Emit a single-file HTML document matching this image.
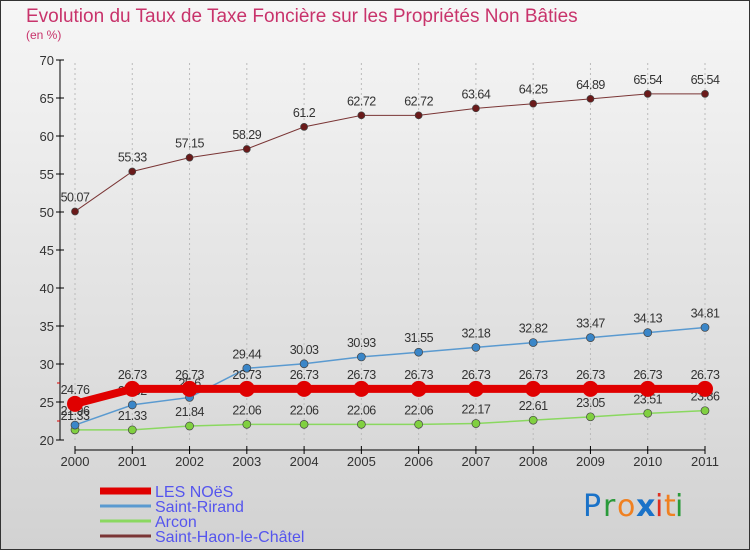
<!DOCTYPE html>
<html><head><meta charset="utf-8"><style>
body{margin:0}
#c{width:750px;height:550px;position:relative;font-family:"Liberation Sans",sans-serif}
</style></head><body>
<div id="c">
<svg id="s" width="750" height="550" xmlns="http://www.w3.org/2000/svg">
<defs><linearGradient id="bg" x1="0" y1="0" x2="0" y2="1"><stop offset="0" stop-color="#f6f6f6"/><stop offset="1" stop-color="#d2d2d2"/></linearGradient></defs>
<rect x="0.5" y="0.5" width="749" height="549" fill="url(#bg)" stroke="#333"/>
<text x="26" y="22" font-size="19" fill="#c8336b">Evolution du Taux de Taxe Foncière sur les Propriétés Non Bâties</text>
<text x="26" y="39" font-size="12" fill="#c8336b">(en %)</text>
<g id="axes"></g><g id="series"></g><g id="legend"></g>
<g font-size="30" font-family="'DejaVu Sans',sans-serif">
<text x="583" y="516" fill="#1a72c8">P</text><text x="603" y="516" fill="#2a9a3a">r</text><text x="617" y="516" fill="#f08020">o</text><text x="636" y="516" fill="#1a72c8" font-weight="bold">x</text><text x="655" y="516" fill="#e03020">i</text><text x="664" y="516" fill="#f08020">t</text><text x="675" y="516" fill="#2a9a3a">i</text>
</g>
</svg></div>
<script>
const years=["2000","2001","2002","2003","2004","2005","2006","2007","2008","2009","2010","2011"];
const yTicks=[20,25,30,35,40,45,50,55,60,65,70];
const lesNoes=[24.76,26.73,26.73,26.73,26.73,26.73,26.73,26.73,26.73,26.73,26.73,26.73];
const saintRirand=[21.96,24.62,25.6,29.44,30.03,30.93,31.55,32.18,32.82,33.47,34.13,34.81];
const arcon=[21.33,21.33,21.84,22.06,22.06,22.06,22.06,22.17,22.61,23.05,23.51,23.86];
const saintHaon=[50.07,55.33,57.15,58.29,61.2,62.72,62.72,63.64,64.25,64.89,65.54,65.54];
const NS="http://www.w3.org/2000/svg";
const X=i=>75+i*(630/(years.length-1));
const Y=v=>440-(v-20)*7.6;
function mk(tag,attrs,parent,text){const e=document.createElementNS(NS,tag);for(const k in attrs)e.setAttribute(k,attrs[k]);if(text!==undefined)e.textContent=text;parent.appendChild(e);return e;}
const ax=document.getElementById('axes');
let e=mk('line',{x1:60,y1:Y(70),x2:60,y2:Y(20),stroke:'#000'},ax);


e=mk('line',{x1:75,y1:450,x2:705,y2:450,stroke:'#000'},ax);


[22.5,27.5].forEach(v=>mk('line',{x1:57,y1:Y(v),x2:60,y2:Y(v),stroke:'#d00'},ax));
yTicks.forEach(v=>{
 mk('line',{x1:56,y1:Y(v),x2:64,y2:Y(v),stroke:'#000'},ax);
 e=mk('text',{x:54,y:Y(v)+5,'font-size':13,fill:'#333','text-anchor':'end'},ax,String(v));
 
 
});
years.forEach((y,i)=>{
 mk('line',{x1:X(i),y1:446,x2:X(i),y2:454,stroke:'#000'},ax);
 mk('line',{x1:X(i),y1:Y(20),x2:X(i),y2:Y(70),stroke:'#bbb','stroke-dasharray':'2,3'},ax);
 e=mk('text',{x:X(i),y:466,'font-size':13,fill:'#333','text-anchor':'middle'},ax,y);
 
 
});
const sg=document.getElementById('series');
const series=[
 {name:'Saint-Haon-le-Châtel',d:saintHaon,c:'#7a3535',w:1,r:3.5,f:'#6a1a1a'},
 {name:'Arcon',d:arcon,c:'#8ad860',w:1.5,r:4,f:'#80d040'},
 {name:'Saint-Rirand',d:saintRirand,c:'#5a9ad0',w:1.5,r:4,f:'#3a86c8'},
 {name:'LES NOëS',d:lesNoes,c:'#e00000',w:8,r:8,f:'#e00000'}
];
series.forEach(s=>{
 const g=mk('g',{},sg);
 
 
 mk('polyline',{points:s.d.map((v,i)=>X(i)+','+Y(v)).join(' '),fill:'none',stroke:s.c,'stroke-width':s.w},g);
 s.d.forEach((v,i)=>{
  const p=mk('circle',{cx:X(i),cy:Y(v),r:s.r,fill:s.f,stroke:'#444','stroke-width':s.w>5?0:0.7},g);
  
  
  const t=mk('text',{x:X(i),y:Y(v)-10,'font-size':12.5,fill:'#333','text-anchor':'middle','letter-spacing':'-0.5'},g,String(v));
  
  
 });
});
const lg=document.getElementById('legend');
[series[3],series[2],series[1],series[0]].forEach((s,i)=>{
 const y=491+i*15;
 const g=mk('g',{},lg);
 
 
 mk('line',{x1:100,y1:y,x2:151,y2:y,stroke:s.c,'stroke-width':s.w>5?7:3},g);
 mk('text',{x:155,y:y+6,'font-size':16,fill:'#5555ee'},g,s.name);
});
</script>
</body></html>
